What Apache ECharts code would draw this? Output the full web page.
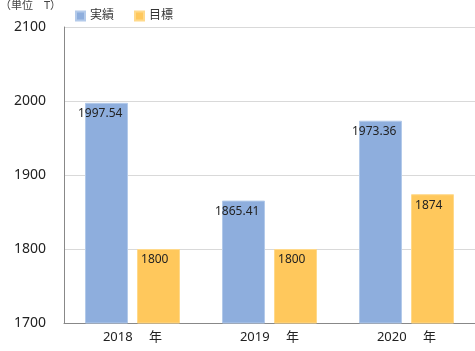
<!DOCTYPE html>
<html><head><meta charset="utf-8">
<script src="https://cdn.jsdelivr.net/npm/echarts@6/dist/echarts.min.js"></script>
<style>html,body{margin:0;padding:0;background:#fff}#c{width:475px;height:351px}</style>
</head><body><div id="c"></div>
<script>
const categories = ['2018　 年', '2019　 年', '2020　 年'];
const actual = [1997.54, 1865.41, 1973.36];
const target = [1800, 1800, 1874];
const seriesNames = ['実績', '目標'];
const unitLabel = '（単位　T）';

const FONT = '"Noto Sans", "Noto Sans CJK JP", sans-serif';
const chart = echarts.init(document.getElementById('c'));
chart.setOption({
  animation: false,
  textStyle: { fontFamily: FONT },
  grid: { left: 64, right: 0, top: 27, bottom: 28, containLabel: false },
  legend: {
    left: 70, top: 5, itemWidth: 9, itemHeight: 9, itemGap: 20, icon: 'rect',
    textStyle: { fontSize: 12, color: '#333', fontFamily: FONT },
    data: seriesNames
  },
  graphic: [{ type: 'text', left: 0, top: 0, style: { text: unitLabel, fontSize: 11, fill: '#444', fontFamily: FONT } }],
  xAxis: {
    type: 'category', data: categories,
    axisLine: { lineStyle: { color: '#888' } },
    axisTick: { show: false },
    axisLabel: { fontSize: 13, color: '#222', margin: 8, fontFamily: FONT }
  },
  yAxis: {
    type: 'value', min: 1700, max: 2100, interval: 100,
    axisLine: { show: true, lineStyle: { color: '#888' } },
    axisTick: { show: false },
    axisLabel: { fontSize: 14, color: '#222', margin: 18, fontFamily: FONT, formatter: v => String(v) },
    splitLine: { lineStyle: { color: '#d9d9d9' } }
  },
  series: [
    { name: seriesNames[0], type: 'bar', data: actual, barWidth: 43, barGap: '21%',
      itemStyle: { color: '#8EAEDD', borderColor: '#B3CAEA', borderWidth: 1 },
      label: { show: true, position: 'insideTopLeft', distance: 5, offset: [-12, 0], fontSize: 12, color: '#222', fontFamily: FONT, formatter: p => String(p.value) } },
    { name: seriesNames[1], type: 'bar', data: target, barWidth: 43,
      itemStyle: { color: '#FFC85C', borderColor: '#FFD98A', borderWidth: 1 },
      label: { show: true, position: 'insideTopLeft', distance: 5, offset: [-1, 0], fontSize: 12, color: '#222', fontFamily: FONT, formatter: p => String(p.value) } }
  ]
});
</script></body></html>
